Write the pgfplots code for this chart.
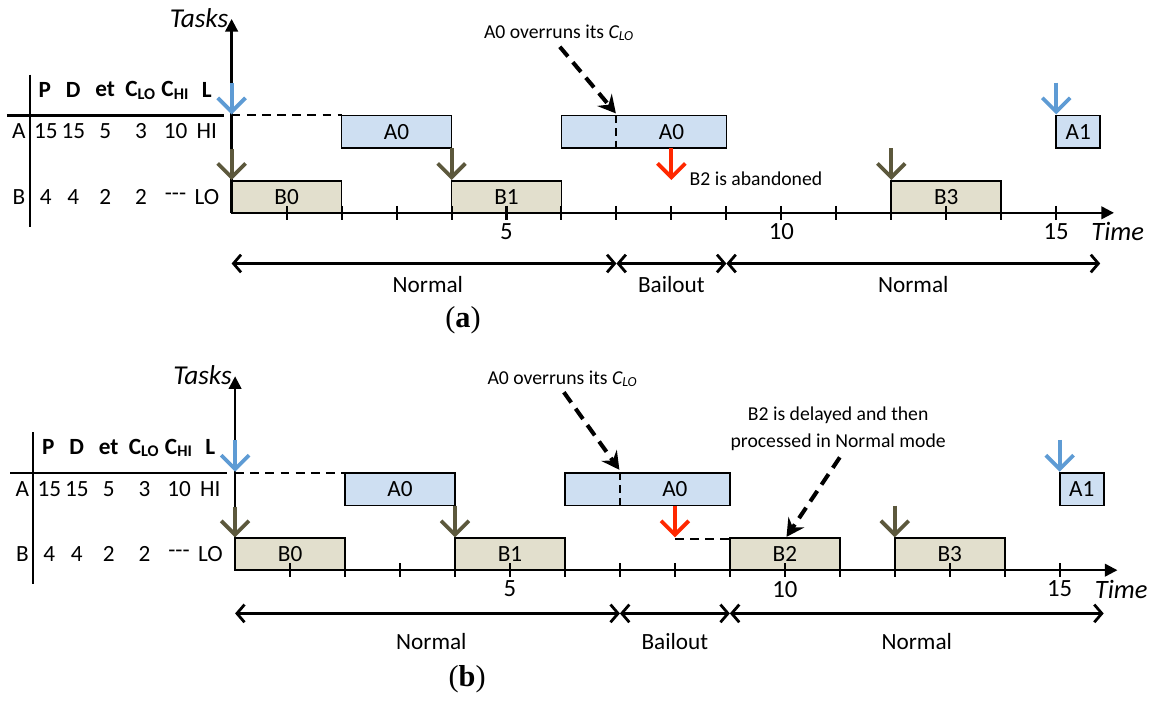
\documentclass[border=0pt]{standalone}
\usepackage{pgfplots}
\pgfplotsset{compat=1.18}
\usepackage{fontspec}
\setmainfont{Carlito}
\newfontfamily\capfont{Liberation Serif}
\usetikzlibrary{arrows.meta}
\definecolor{afill}{RGB}{206,223,242}
\definecolor{bfill}{RGB}{226,223,205}
\definecolor{barrow}{RGB}{94,155,212}
\definecolor{brarrow}{RGB}{92,88,60}
\definecolor{rarrow}{RGB}{255,40,0}
\tikzset{
  relhead/.style={-{Straight Barb[length=5.5pt,width=11pt,line width=1.5pt]}},
  bluearr/.style={draw=barrow, line width=1.6pt, relhead},
  brownarr/.style={draw=brarrow, line width=1.6pt, relhead},
  redarr/.style={draw=rarrow, line width=1.6pt, relhead},
  dasharr/.style={line width=1.6pt, dash pattern=on 5pt off 3pt, -{Stealth[length=7pt,width=7.5pt,inset=2.5pt]}},
  modearr/.style={line width=1.1pt, {Straight Barb[length=3pt,width=7pt]}-{Straight Barb[length=3pt,width=7pt]}},
  box/.style={draw=black, line width=0.7pt},
  annot/.style={font=\fontsize{7.8}{9.6}\selectfont},
}
% Task boxes: start, end, top, bottom, fill
\newcommand{\taskbox}[5]{\addplot[box, fill=#5] coordinates {(#1,#3) (#2,#3) (#2,#4) (#1,#4)} -- cycle;}
\newcommand{\commonpanel}[2]{%
  \path (rel axis cs:0,0) rectangle (rel axis cs:1,1);
  % table
  \draw[line width=0.9pt] (axis cs:-3.67,75) -- (axis cs:-3.67,228);
  \draw[line width=0.9pt] (axis cs:-4.09,116) -- (axis cs:-0.14,116);
  \draw[line width=0.8pt, dash pattern=on 3.5pt off 2.5pt] (axis cs:0,116) -- (axis cs:2,116);
  \node at (axis cs:-3.40,90) {\textbf{P}};
  \node at (axis cs:-2.88,90) {\textbf{D}};
  \node at (axis cs:-2.30,90) {\textbf{et}};
  \node at (axis cs:-1.65,91) {\textbf{C\textsubscript{LO}}};
  \node at (axis cs:-1.02,91) {\textbf{C\textsubscript{HI}}};
  \node at (axis cs:-0.45,90) {\textbf{L}};
  \node at (axis cs:-3.87,132) {A};
  \node at (axis cs:-3.38,132) {15};
  \node at (axis cs:-2.88,132) {15};
  \node at (axis cs:-2.30,132) {5};
  \node at (axis cs:-1.65,132) {3};
  \node at (axis cs:-1.02,132) {10};
  \node at (axis cs:-0.45,132) {HI};
  \node at (axis cs:-3.87,198) {B};
  \node at (axis cs:-3.38,198) {4};
  \node at (axis cs:-2.88,198) {4};
  \node at (axis cs:-2.30,198) {2};
  \node at (axis cs:-1.65,198) {2};
  \node at (axis cs:-1.02,198) {-{}-{}-};
  \node at (axis cs:-0.45,198) {LO};
  % boxes
  \taskbox{2}{4}{116}{149}{afill}
  \taskbox{6}{9}{116}{149}{afill}
  \taskbox{15}{15.8}{116}{149}{afill}
  \taskbox{0}{2}{182}{214}{bfill}
  \taskbox{4}{6}{182}{214}{bfill}
  \taskbox{12}{14}{182}{214}{bfill}
  \draw[line width=0.8pt, dash pattern=on 3pt off 2pt] (axis cs:7,116) -- (axis cs:7,149);
  \node at (axis cs:3,132.5) {A0};
  \node at (axis cs:8,132.5) {A0};
  \node at (axis cs:15.4,132.5) {A1};
  \node at (axis cs:1,198) {B0};
  \node at (axis cs:5,198) {B1};
  \node at (axis cs:13,198) {B3};
  % axes
  \draw[line width=0.9pt, -{Triangle[length=5pt,width=5pt]}] (axis cs:0,214) -- (axis cs:16.05,214);
  \draw[line width=0.9pt, -{Triangle[length=5pt,width=5pt]}] (axis cs:0,214) -- (axis cs:0,19);
  \pgfplotsinvokeforeach{1,...,15}{\draw[line width=0.8pt] (axis cs:##1,207) -- (axis cs:##1,221);}
  \node[font=\fontsize{9.8}{12}\selectfont] at (axis cs:5,233) {5};
  \node[font=\fontsize{9.8}{12}\selectfont] at (axis cs:10,233) {10};
  \node[font=\fontsize{9.8}{12}\selectfont] at (axis cs:15,233) {15};
  \node[font=\fontsize{10.5}{12}\selectfont\itshape] at (axis cs:16.12,233) {Time};
  \node[anchor=east, font=\fontsize{10.8}{12}\selectfont\itshape] at (axis cs:0.1,18) {Tasks};
  % release arrows
  \draw[bluearr] (axis cs:0,83) -- (axis cs:0,115);
  \draw[bluearr] (axis cs:15,83) -- (axis cs:15,115);
  \draw[brownarr] (axis cs:0,150) -- (axis cs:0,181);
  \draw[brownarr] (axis cs:4,149) -- (axis cs:4,181);
  \draw[brownarr] (axis cs:12,149) -- (axis cs:12,181);
  \draw[redarr] (axis cs:8,149) -- (axis cs:8,181);
  % modes
  \draw[modearr] (axis cs:0,#1) -- (axis cs:7,#1);
  \draw[modearr] (axis cs:7,#1) -- (axis cs:9,#1);
  \draw[modearr] (axis cs:9,#1) -- (axis cs:15.8,#1);
  \node at (axis cs:3.57,#2) {Normal};
  \node at (axis cs:8,#2) {Bailout};
  \node at (axis cs:12.4,#2) {Normal};
}
\begin{document}
\begin{tikzpicture}[font=\fontsize{9.2}{11}\selectfont]
\begin{axis}[at={(0,0)}, anchor=north west, scale only axis, width=16cm, height=4.7751cm,
  xmin=-4.2134, xmax=16.6907, ymin=0, ymax=345, y dir=reverse, hide axis, clip=false]
  \commonpanel{265}{286.5}
  \node[annot] at (axis cs:5.96,33) {A0 overruns its \textit{C\textsubscript{LO}}};
  \draw[dasharr] (axis cs:5.97,47) -- (axis cs:6.99,114);
  \node[annot, anchor=west] at (axis cs:8.17,180) {B2 is abandoned};
  \node[font=\capfont\fontsize{12}{14}\selectfont] at (axis cs:4.21,322) {(\textbf{a})};
\end{axis}
\begin{axis}[at={(0,-4.7751cm)}, anchor=north west, scale only axis, width=16cm, height=4.8443cm,
  xmin=-4.2767, xmax=16.6275, ymin=-14.5, ymax=335.5, y dir=reverse, hide axis, clip=false]
  \taskbox{9}{11}{182}{214}{bfill}
  \node at (axis cs:10,198) {B2};
  \commonpanel{257.5}{285.5}
  \draw[line width=0.8pt, dash pattern=on 3.5pt off 2.5pt] (axis cs:8,182.5) -- (axis cs:9,182.5);
  \node[annot] at (axis cs:5.96,21.5) {A0 overruns its \textit{C\textsubscript{LO}}};
  \draw[dasharr] (axis cs:5.98,35) -- (axis cs:6.99,113);
  \node[annot, align=center] at (axis cs:10.97,72) {B2 is delayed and then\\[1pt]processed in Normal mode};
  \draw[dasharr] (axis cs:11.0,100.5) -- (axis cs:10.03,180.5);
  \node[font=\capfont\fontsize{12}{14}\selectfont] at (axis cs:4.22,324) {(\textbf{b})};
\end{axis}
\end{tikzpicture}
\end{document}
